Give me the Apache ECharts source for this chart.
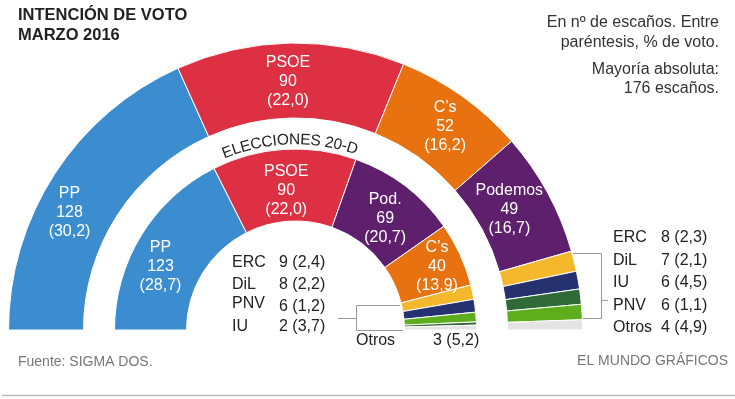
<!DOCTYPE html>
<html>
<head>
<meta charset="utf-8">
<script src="https://cdn.jsdelivr.net/npm/echarts@6/dist/echarts.min.js"></script>
<style>
  html, body { margin: 0; padding: 0; background: #fff; }
  #chart { width: 735px; height: 399px; }
</style>
</head>
<body>
<div id="chart"></div>
<script>
  // escaños y % de voto (sondeo marzo 2016, anillo exterior)
  const outerNames = ['PP', 'PSOE', 'C’s', 'Podemos', 'ERC', 'DiL', 'IU', 'PNV', 'Otros']
  const outerSeats = [128, 90, 52, 49, 8, 7, 6, 6, 4]
  const outerVote = ['30,2', '22,0', '16,2', '16,7', '2,3', '2,1', '4,5', '1,1', '4,9']
  // elecciones 20-D (anillo interior)
  const innerNames = ['PP', 'PSOE', 'Pod.', 'C’s', 'ERC', 'DiL', 'PNV', 'IU', 'Otros']
  const innerSeats = [123, 90, 69, 40, 9, 8, 6, 2, 3]
  const innerVote = ['28,7', '22,0', '20,7', '13,9', '2,4', '2,2', '1,2', '3,7', '5,2']

  const colors = {
    'PP': '#3b8dd0', 'PSOE': '#dd3043', 'C’s': '#e8720f', 'Podemos': '#5e1f6d', 'Pod.': '#5e1f6d',
    'ERC': '#f5b72c', 'DiL': '#26316f', 'IU': '#2f6a38', 'PNV': '#5dad1c', 'Otros': '#e4e4e4'
  }
  const bigOnes = 4 // los 4 primeros llevan etiqueta dentro

  const cx = 295.5, cy = 330
  const font = 'Liberation Sans, Arial, sans-serif'

  // ajustes de etiqueta
  const outerOffset = { 'PP': [-14, 20], 'PSOE': [-3, 4], 'C’s': [3, 2], 'Podemos': [-8, 0] }
  const innerOffset = { 'PP': [-9, 14], 'PSOE': [0, 8], 'Pod.': [0, 6], 'C’s': [7, -2] }

  const buildData = (names, seats, votes, offsets) => names.map((n, i) => ({
    name: n,
    value: seats[i],
    itemStyle: { color: colors[n] },
    label: i < bigOnes
      ? { show: true, formatter: n + '\n' + seats[i] + '\n(' + votes[i] + ')', offset: offsets[n] || [0, 0] }
      : { show: false }
  }))

  const pieBase = {
    type: 'pie',
    center: [cx, cy],
    startAngle: 180,
    endAngle: 0,
    clockwise: true,
    silent: true,
    avoidLabelOverlap: false,
    itemStyle: { borderColor: '#fff', borderWidth: 1 },
    label: {
      position: 'inside',
      color: '#fff',
      fontFamily: font,
      fontSize: 16,
      lineHeight: 19
    },
    labelLine: { show: false }
  }

  // texto curvo "ELECCIONES 20-D"
  const arcText = 'ELECCIONES 20-D'
  const arcFont = '15.5px ' + font
  const ctx = document.createElement('canvas').getContext('2d')
  ctx.font = arcFont
  const r = 190
  const widths = arcText.split('').map(ch => ctx.measureText(ch).width)
  const total = widths.reduce((a, b) => a + b, 0)
  let pos = -total / 2
  const arcGraphics = []
  arcText.split('').forEach((ch, i) => {
    const mid = pos + widths[i] / 2
    pos += widths[i]
    const phi = mid / r - 0.03
    arcGraphics.push({
      type: 'text',
      x: cx + r * Math.sin(phi),
      y: cy - r * Math.cos(phi),
      rotation: -phi,
      style: { text: ch, font: arcFont, fill: '#222', align: 'center', verticalAlign: 'middle' }
    })
  })

  const txt = (x, y, text, opts) => Object.assign({
    type: 'text', x: x, y: y,
    style: Object.assign({ text: text, font: '16px ' + font, fill: '#222', verticalAlign: 'middle' }, opts || {})
  })

  // lista interior (ERC, DiL, PNV, IU) y Otros
  const innerListY = [263, 285, 304, 327]
  const innerList = []
  for (let i = bigOnes; i < innerNames.length - 1; i++) {
    const k = i - bigOnes
    innerList.push(txt(232, innerListY[k], innerNames[i]))
    innerList.push(txt(279, innerListY[k] + (innerNames[i] === 'PNV' ? 3 : 0), innerSeats[i] + ' (' + innerVote[i] + ')'))
  }
  const lastI = innerNames.length - 1
  innerList.push(txt(356, 341, innerNames[lastI]))
  innerList.push(txt(433, 341, innerSeats[lastI] + ' (' + innerVote[lastI] + ')'))

  // lista exterior
  const outerListY = [238, 261, 283, 306, 328]
  const outerList = []
  for (let i = bigOnes; i < outerNames.length; i++) {
    const k = i - bigOnes
    outerList.push(txt(613, outerListY[k], outerNames[i]))
    outerList.push(txt(661, outerListY[k], outerSeats[i] + ' (' + outerVote[i] + ')'))
  }

  const lineStyle = { stroke: '#999', lineWidth: 1 }
  const brackets = [
    { type: 'polyline', shape: { points: [[400, 305.5], [356.5, 305.5], [356.5, 330.5], [403, 330.5]] }, style: lineStyle },
    { type: 'line', shape: { x1: 338, y1: 318.5, x2: 356.5, y2: 318.5 }, style: lineStyle },
    { type: 'polyline', shape: { points: [[573, 253.5], [601.5, 253.5], [601.5, 318.5], [583, 318.5]] }, style: lineStyle },
    { type: 'line', shape: { x1: 601.5, y1: 300.5, x2: 608, y2: 300.5 }, style: lineStyle }
  ]

  const option = {
    animation: false,
    backgroundColor: '#fff',
    series: [
      Object.assign({}, pieBase, { name: 'Marzo 2016', radius: [212, 287], data: buildData(outerNames, outerSeats, outerVote, outerOffset) }),
      Object.assign({}, pieBase, { name: 'Elecciones 20-D', radius: [109, 181], data: buildData(innerNames, innerSeats, innerVote, innerOffset) })
    ],
    graphic: [
      txt(18, 15, 'INTENCIÓN DE VOTO', { font: 'bold 16.5px ' + font }),
      txt(18, 35, 'MARZO 2016', { font: 'bold 16.5px ' + font }),
      txt(719, 23, 'En nº de escaños. Entre', { align: 'right', fill: '#333' }),
      txt(719, 43, 'paréntesis, % de voto.', { align: 'right', fill: '#333' }),
      txt(719, 70, 'Mayoría absoluta:', { align: 'right', fill: '#333' }),
      txt(719, 89, '176 escaños.', { align: 'right', fill: '#333' }),
      txt(18, 362, 'Fuente: SIGMA DOS.', { font: '14px ' + font, fill: '#777' }),
      txt(728, 361, 'EL MUNDO GRÁFICOS', { font: '14px ' + font, fill: '#777', align: 'right' }),
      { type: 'line', shape: { x1: 2, y1: 395.5, x2: 735, y2: 395.5 }, style: { stroke: '#bbb', lineWidth: 1.5 } }
    ].concat(arcGraphics, innerList, outerList, brackets)
  }

  const chart = echarts.init(document.getElementById('chart'))
  chart.setOption(option)
  window.onresize = () => {
    chart.resize()
  }
</script>
</body>
</html>
